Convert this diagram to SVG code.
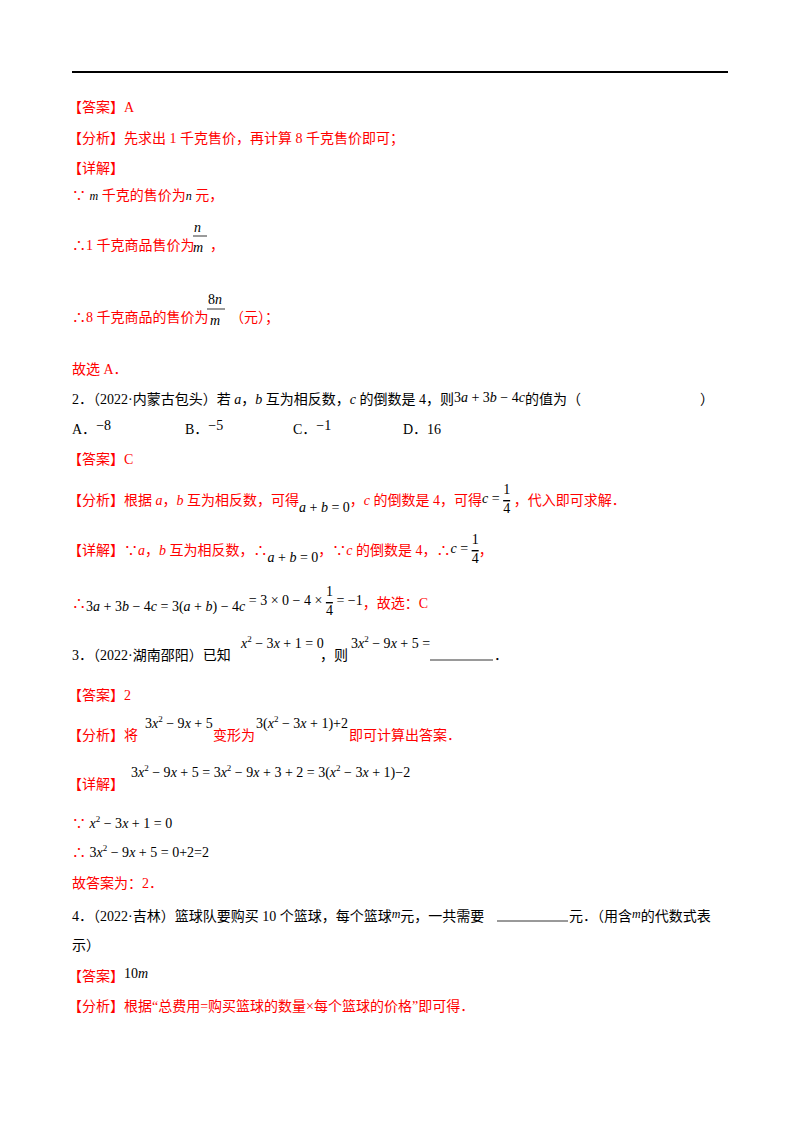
<svg xmlns="http://www.w3.org/2000/svg" width="800" height="1132" viewBox="0 0 800 1132">
<style>
text{font-family:"Liberation Serif","Noto Sans CJK SC",serif;font-size:14px;fill:#000}
.r{fill:#ff0000}
.k{fill:#000}
.i{font-style:italic}
.s{font-size:9px}
.o{text-decoration:overline}
</style>
<rect width="800" height="1132" fill="#fff"/>
<line x1="72" y1="72" x2="728" y2="72" stroke="#000" stroke-width="2"/>
<text x="68" y="112" class="r">【答案】A</text>
<text x="68" y="143" class="r">【分析】先求出 1 千克售价，再计算 8 千克售价即可；</text>
<text x="68" y="173" class="r">【详解】</text>
<text x="72" y="200"><tspan class="r">∵ </tspan><tspan class="i" font-size="12">m</tspan><tspan class="r"> 千克的售价为</tspan><tspan class="i" font-size="12">n</tspan><tspan class="r"> 元，</tspan></text>
<text x="72" y="250" class="r">∴1 千克商品售价为</text>
<text x="194" y="232" class="i">n</text>
<line x1="193" y1="236" x2="207" y2="236" stroke="#000" stroke-width="0.8"/>
<text x="193" y="252" class="i">m</text>
<text x="210" y="250" class="r">，</text>
<text x="72" y="322" class="r">∴8 千克商品的售价为</text>
<text x="208" y="304">8<tspan class="i">n</tspan></text>
<line x1="207" y1="309" x2="225" y2="309" stroke="#000" stroke-width="0.8"/>
<text x="210" y="325" class="i">m</text>
<text x="230" y="322" class="r">（元）；</text>
<text x="72" y="374" class="r">故选 A．</text>
<g id="q2">
<text x="72" y="404">2．（2022·内蒙古包头）若 <tspan class="i">a</tspan>，<tspan class="i">b</tspan> 互为相反数，<tspan class="i">c</tspan> 的倒数是 4，则<tspan dy="-2">3<tspan class="i">a</tspan> + 3<tspan class="i">b</tspan> − 4<tspan class="i">c</tspan></tspan><tspan dy="2">的值为（</tspan></text>
<text x="700" y="404">）</text>
<text x="72" y="434">A．<tspan dy="-4">−8</tspan></text>
<text x="185" y="434">B．<tspan dy="-4">−5</tspan></text>
<text x="293" y="434">C．<tspan dy="-4">−1</tspan></text>
<text x="403" y="434">D．16</text>
<text x="68" y="464" class="r">【答案】C</text>
<text x="68" y="505" class="r">【分析】根据 <tspan class="i">a</tspan>，<tspan class="i">b</tspan> 互为相反数，可得<tspan class="k" dy="7"><tspan class="i">a</tspan> + <tspan class="i">b</tspan> = 0</tspan><tspan dy="-7">，<tspan class="i">c</tspan> 的倒数是 4，可得</tspan><tspan class="k" dy="-2"><tspan class="i">c</tspan> = </tspan><tspan class="k" dy="-9">1</tspan><tspan class="k o" dx="-7" dy="19">4</tspan><tspan dy="-8"> ，代入即可求解．</tspan></text>
<text x="68" y="555" class="r">【详解】∵<tspan class="i">a</tspan>，<tspan class="i">b</tspan> 互为相反数，∴<tspan class="k" dy="7"><tspan class="i">a</tspan> + <tspan class="i">b</tspan> = 0</tspan><tspan dy="-7">，∵<tspan class="i">c</tspan> 的倒数是 4，∴</tspan><tspan class="k" dy="-2"><tspan class="i">c</tspan> = </tspan><tspan class="k" dy="-9">1</tspan><tspan class="k o" dx="-7" dy="19">4</tspan><tspan dy="-8">，</tspan></text>
<text x="72" y="608" class="r">∴<tspan class="k" dy="3">3<tspan class="i">a</tspan> + 3<tspan class="i">b</tspan> − 4<tspan class="i">c</tspan> = 3(<tspan class="i">a</tspan> + <tspan class="i">b</tspan>) − 4<tspan class="i">c</tspan></tspan><tspan class="k" dy="-6"> = 3 × 0 − 4 × </tspan><tspan class="k" dy="-9">1</tspan><tspan class="k o" dx="-7" dy="19">4</tspan><tspan class="k" dy="-10"> = −1</tspan><tspan dy="3">，故选：C</tspan></text>
</g>
<text x="72" y="660">3．（2022·湖南邵阳）已知</text>
<text x="241" y="648"><tspan class="i">x</tspan><tspan class="s" dy="-6">2</tspan><tspan dy="6"> − 3<tspan class="i">x</tspan> + 1 = 0</tspan></text>
<text x="320" y="660">，则</text>
<text x="351" y="648">3<tspan class="i">x</tspan><tspan class="s" dy="-6">2</tspan><tspan dy="6"> − 9<tspan class="i">x</tspan> + 5 =</tspan></text>
<line x1="430" y1="660" x2="493" y2="660" stroke="#000" stroke-width="0.8"/>
<text x="494" y="660">．</text>
<text x="68" y="700" class="r">【答案】2</text>
<text x="68" y="740" class="r">【分析】将</text>
<text x="145" y="728">3<tspan class="i">x</tspan><tspan class="s" dy="-6">2</tspan><tspan dy="6"> − 9<tspan class="i">x</tspan> + 5</tspan></text>
<text x="213" y="740" class="r">变形为</text>
<text x="256" y="728">3(<tspan class="i">x</tspan><tspan class="s" dy="-6">2</tspan><tspan dy="6"> − 3<tspan class="i">x</tspan> + 1)+2</tspan></text>
<text x="349" y="740" class="r">即可计算出答案．</text>
<text x="68" y="789" class="r">【详解】</text>
<text x="131" y="777">3<tspan class="i">x</tspan><tspan class="s" dy="-6">2</tspan><tspan dy="6"> − 9<tspan class="i">x</tspan> + 5 = 3<tspan class="i">x</tspan></tspan><tspan class="s" dy="-6">2</tspan><tspan dy="6"> − 9<tspan class="i">x</tspan> + 3 + 2 = 3(<tspan class="i">x</tspan></tspan><tspan class="s" dy="-6">2</tspan><tspan dy="6"> − 3<tspan class="i">x</tspan> + 1)−2</tspan></text>
<text x="72" y="828"><tspan class="r">∵ </tspan><tspan class="i">x</tspan><tspan class="s" dy="-6">2</tspan><tspan dy="6"> − 3<tspan class="i">x</tspan> + 1 = 0</tspan></text>
<text x="72" y="857"><tspan class="r">∴ </tspan>3<tspan class="i">x</tspan><tspan class="s" dy="-6">2</tspan><tspan dy="6"> − 9<tspan class="i">x</tspan> + 5 = 0+2=2</tspan></text>
<text x="72" y="888" class="r">故答案为：2．</text>
<text x="72" y="921">4．（2022·吉林）篮球队要购买 10 个篮球，每个篮球<tspan class="i" font-size="12" dy="-3">m</tspan><tspan dy="3">元，一共需要</tspan></text>
<line x1="497" y1="921" x2="568" y2="921" stroke="#000" stroke-width="0.8"/>
<text x="569" y="921">元．（用含<tspan class="i" font-size="12" dy="-3">m</tspan><tspan dy="3">的代数式表</tspan></text>
<text x="72" y="950">示）</text>
<text x="68" y="981"><tspan class="r">【答案】</tspan><tspan dy="-3">10<tspan class="i">m</tspan></tspan></text>
<text x="68" y="1011" class="r">【分析】根据“总费用=购买篮球的数量×每个篮球的价格”即可得．</text>
</svg>
